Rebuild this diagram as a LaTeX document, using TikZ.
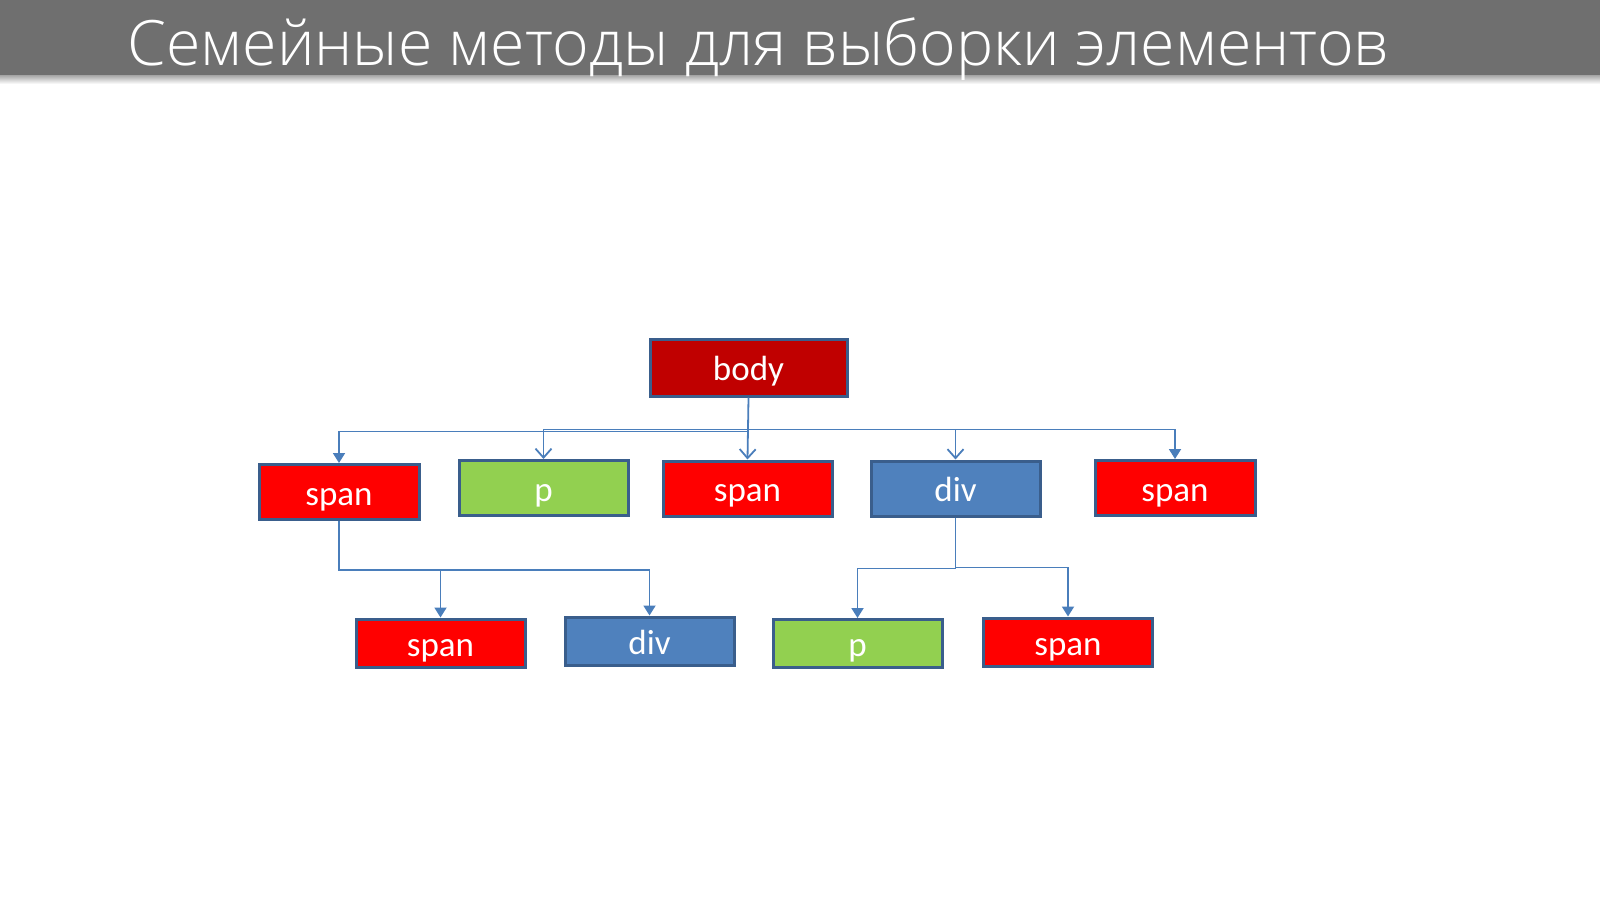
\documentclass[tikz,border=0pt]{standalone}
\usepackage{fontspec}
\setmainfont{Carlito}
\newfontfamily\titlefont{Open Sans Light}
\usetikzlibrary{arrows.meta}
\definecolor{barGray}{HTML}{6F6F6F}
\definecolor{tagBorder}{HTML}{3A5E8C}
\definecolor{spanRed}{HTML}{FF0000}
\definecolor{bodyRed}{HTML}{C00000}
\definecolor{pGreen}{HTML}{92D050}
\definecolor{divBlue}{HTML}{4F81BD}
\definecolor{connBlue}{HTML}{4A7EBB}

\tikzset{
	tag/.style={draw=tagBorder, line width=3pt, text=white, inner sep=0pt,
		text height=32pt, text depth=6pt,
		minimum width=169pt, minimum height=55pt, font=\fontsize{35}{40}\selectfont},
	spanbox/.style={tag, fill=spanRed},
	pbox/.style={tag, fill=pGreen},
	divbox/.style={tag, fill=divBlue},
	bodybox/.style={tag, fill=bodyRed, minimum width=197pt, minimum height=57pt},
	low/.style={minimum height=48pt},
	conn/.style={draw=connBlue, line width=1.8pt, -{Triangle[length=10pt,width=12pt]}},
	openconn/.style={draw=connBlue, line width=1.8pt, -{Straight Barb[length=9pt,width=16pt]}},
}

\begin{document}
\begin{tikzpicture}[x=1pt,y=-1pt]
	%%%%% FRAME %%%%%
	\useasboundingbox (0,0) rectangle (1600,908);
	\fill[white] (0,0) rectangle (1600,908);
	\shade[top color=barGray!70, bottom color=white] (0,74) rectangle (1600,84);
	\fill[barGray] (0,0) rectangle (1600,75);
	\node[anchor=base west, inner sep=0pt, text=white, font=\titlefont\fontsize{62.6}{70}\selectfont]
		(title) at (127,65) {Семейные методы для выборки элементов};
	
	%%%%% NODES %%%%%
	\node[bodybox] (body) at (748.5,367.5) {body};
	
	\node[spanbox, minimum width=160pt] (span1) at (339,492) {span};
	\node[pbox] (p1) at (543.5,488) {p};
	\node[spanbox] (span2) at (747.5,488.5) {span};
	\node[divbox] (div1) at (955.5,488.5) {div};
	\node[spanbox, minimum width=160pt] (span3) at (1175,488) {span};
	
	\node[spanbox, low] (span4) at (440.5,643) {span};
	\node[divbox, low] (div2) at (649.5,641) {div};
	\node[pbox, low] (p2) at (857.5,643.5) {p};
	\node[spanbox, low] (span5) at (1068,642) {span};
	
	%%%%% CONNECTORS %%%%%
	\draw[conn] (body.south) -- ++(0,34) -| (span1.north);
	\draw[openconn] (body.south) -- ++(0,32) -| (p1.north);
	\draw[openconn] (body.south) -- (span2.north);
	\draw[openconn] (body.south) -- ++(0,32) -| (div1.north);
	\draw[conn] (body.south) -- ++(0,32) -| (span3.north);
	
	\draw[conn] (span1.south) -- ++(0,49) -| (span4.north);
	\draw[conn] (span1.south) -- ++(0,49) -| (div2.north);
	
	\draw[conn] (div1.south) -- ++(0,51) -| (p2.north);
	\draw[conn] (div1.south) -- ++(0,50) -| (span5.north);
	
\end{tikzpicture}
\end{document}
